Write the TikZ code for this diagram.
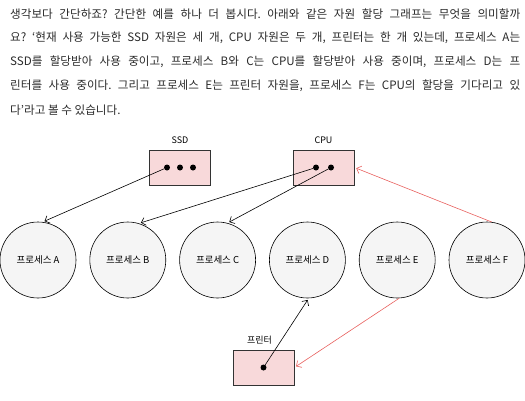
\documentclass[tikz,border=0pt]{standalone}
\usepackage{fontspec}
\setmainfont{Noto Sans CJK KR}
\usepackage{xcolor}
\usetikzlibrary{arrows.meta,calc,positioning}
\definecolor{resfill}{HTML}{F8D9DA}
\definecolor{procfill}{HTML}{F5F5F5}
\definecolor{waitred}{HTML}{E8605E}
\definecolor{bodytxt}{HTML}{2A2A2A}
\frenchspacing

\begin{document}
\begin{tikzpicture}[x=1pt,y=-1pt,
    res/.style={draw=black!80,thick,fill=resfill,minimum width=61pt,minimum height=35pt,inner sep=0pt},
    proc/.style={circle,draw,semithick,fill=procfill,minimum size=76pt,inner sep=0pt,font=\fontsize{9.5}{11}\selectfont},
    dot/.style={circle,fill,inner sep=0pt,minimum size=6pt},
    lbl/.style={font=\fontsize{9}{10}\selectfont},
    para/.style={anchor=west,inner sep=0pt,text=bodytxt,font=\fontsize{11.6}{14}\selectfont},
    hold/.style={-{Straight Barb[length=4pt,width=8pt]},semithick,shorten >=2pt},
    wait/.style={hold,draw=waitred}]
    \useasboundingbox (0,0) rectangle (525,400);
    \node[para] at (10,14)(l1){\makebox[510pt][s]{생각보다 간단하죠? 간단한 예를 하나 더 봅시다. 아래와 같은 자원 할당 그래프는 무엇을 의미할까}};
    \node[para] at (10,38)(l2){\makebox[510pt][s]{요? ‘현재 사용 가능한 SSD 자원은 세 개, CPU 자원은 두 개, 프린터는 한 개 있는데, 프로세스 A는}};
    \node[para] at (10,62)(l3){\makebox[510pt][s]{SSD를 할당받아 사용 중이고, 프로세스 B와 C는 CPU를 할당받아 사용 중이며, 프로세스 D는 프}};
    \node[para] at (10,86)(l4){\makebox[510pt][s]{린터를 사용 중이다. 그리고 프로세스 E는 프린터 자원을, 프로세스 F는 CPU의 할당을 기다리고 있}};
    \node[para] at (10,110)(l5){다’라고 볼 수 있습니다.};
    \node[res] at (180,167.5)(ssd){};
    \node[lbl,above=2pt of ssd]{SSD};
    \node[dot] at ($(ssd)+(-13,0)$)(s1){};
    \node[dot] at (ssd)(s2){};
    \node[dot] at ($(ssd)+(13,0)$)(s3){};
    \node[res] at (323.5,167.5)(cpu){};
    \node[lbl,above=2pt of cpu]{CPU};
    \node[dot] at ($(cpu)+(-7.5,0)$)(c1){};
    \node[dot] at ($(cpu)+(7.5,0)$)(c2){};
    \node[res] at (263.5,367.5)(prn){};
    \node[lbl,above=2pt of prn,xshift=-4pt]{프린터};
    \node[dot] at (prn)(pdot){};
    \foreach \n [count=\i from 0] in {A,...,F}
        \node[proc] at (38+89.8*\i,260)(p\n){프로세스 \n};
    \draw[hold](s1)--(pA.83);
    \draw[hold](c1)--(pB.73);
    \draw[hold](c2)--(pC.75);
    \draw[hold](pdot)--(pD.272);
    \draw[wait](pE.273)--(prn.east);
    \draw[wait](pF.83)--(cpu.east);
\end{tikzpicture}
\end{document}
